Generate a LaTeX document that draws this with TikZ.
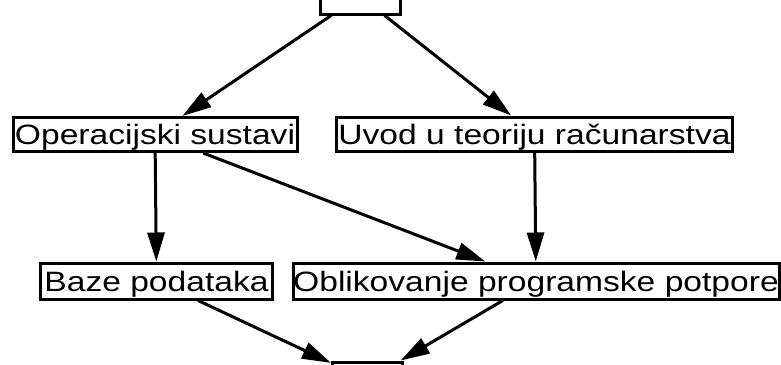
\documentclass[tikz,border=0pt]{standalone}
\usepackage{fontspec}
\setmainfont[FakeStretch=1.2]{Liberation Sans}
\usetikzlibrary{arrows.meta}

\begin{document}
\begin{tikzpicture}[x=0.5pt, y=-0.5pt,
  course/.style={draw, line width=1.5pt, inner sep=0pt, minimum height=17pt,
    text height=13.6pt, text depth=3.4pt, font=\fontsize{14}{17}\selectfont},
  prereq/.style={-{Triangle[length=14.5pt, width=8.5pt]}, line width=1.5pt}]

  \useasboundingbox (0,0) rectangle (781,364);

  % courses (the first and the last are cut by the page edge)
  \node[course, minimum width=40pt, minimum height=18pt] (start) at (360,-4) {};
  \node[course, minimum width=142pt] (os) at (155,134.5) {Operacijski sustavi};
  \node[course, minimum width=198pt] (utr) at (534.5,134) {Uvod u teoriju računarstva};
  \node[course, minimum width=116pt, minimum height=18pt] (baze) at (156.5,281) {Baze podataka};
  \node[course, minimum width=243pt, minimum height=18pt] (opp) at (536,281) {Oblikovanje programske potpore};
  \node[course, minimum width=35pt, minimum height=18pt] (end) at (367.5,380) {};

  % prerequisites
  \draw[prereq] (start) -- (os);
  \draw[prereq] (start) -- (utr);
  \draw[prereq] (os) -- (baze);
  \draw[prereq] (os) -- (opp);
  \draw[prereq] (utr) -- (opp);
  \draw[prereq] (baze) -- (end);
  \draw[prereq] (opp) -- (end);
\end{tikzpicture}
\end{document}
